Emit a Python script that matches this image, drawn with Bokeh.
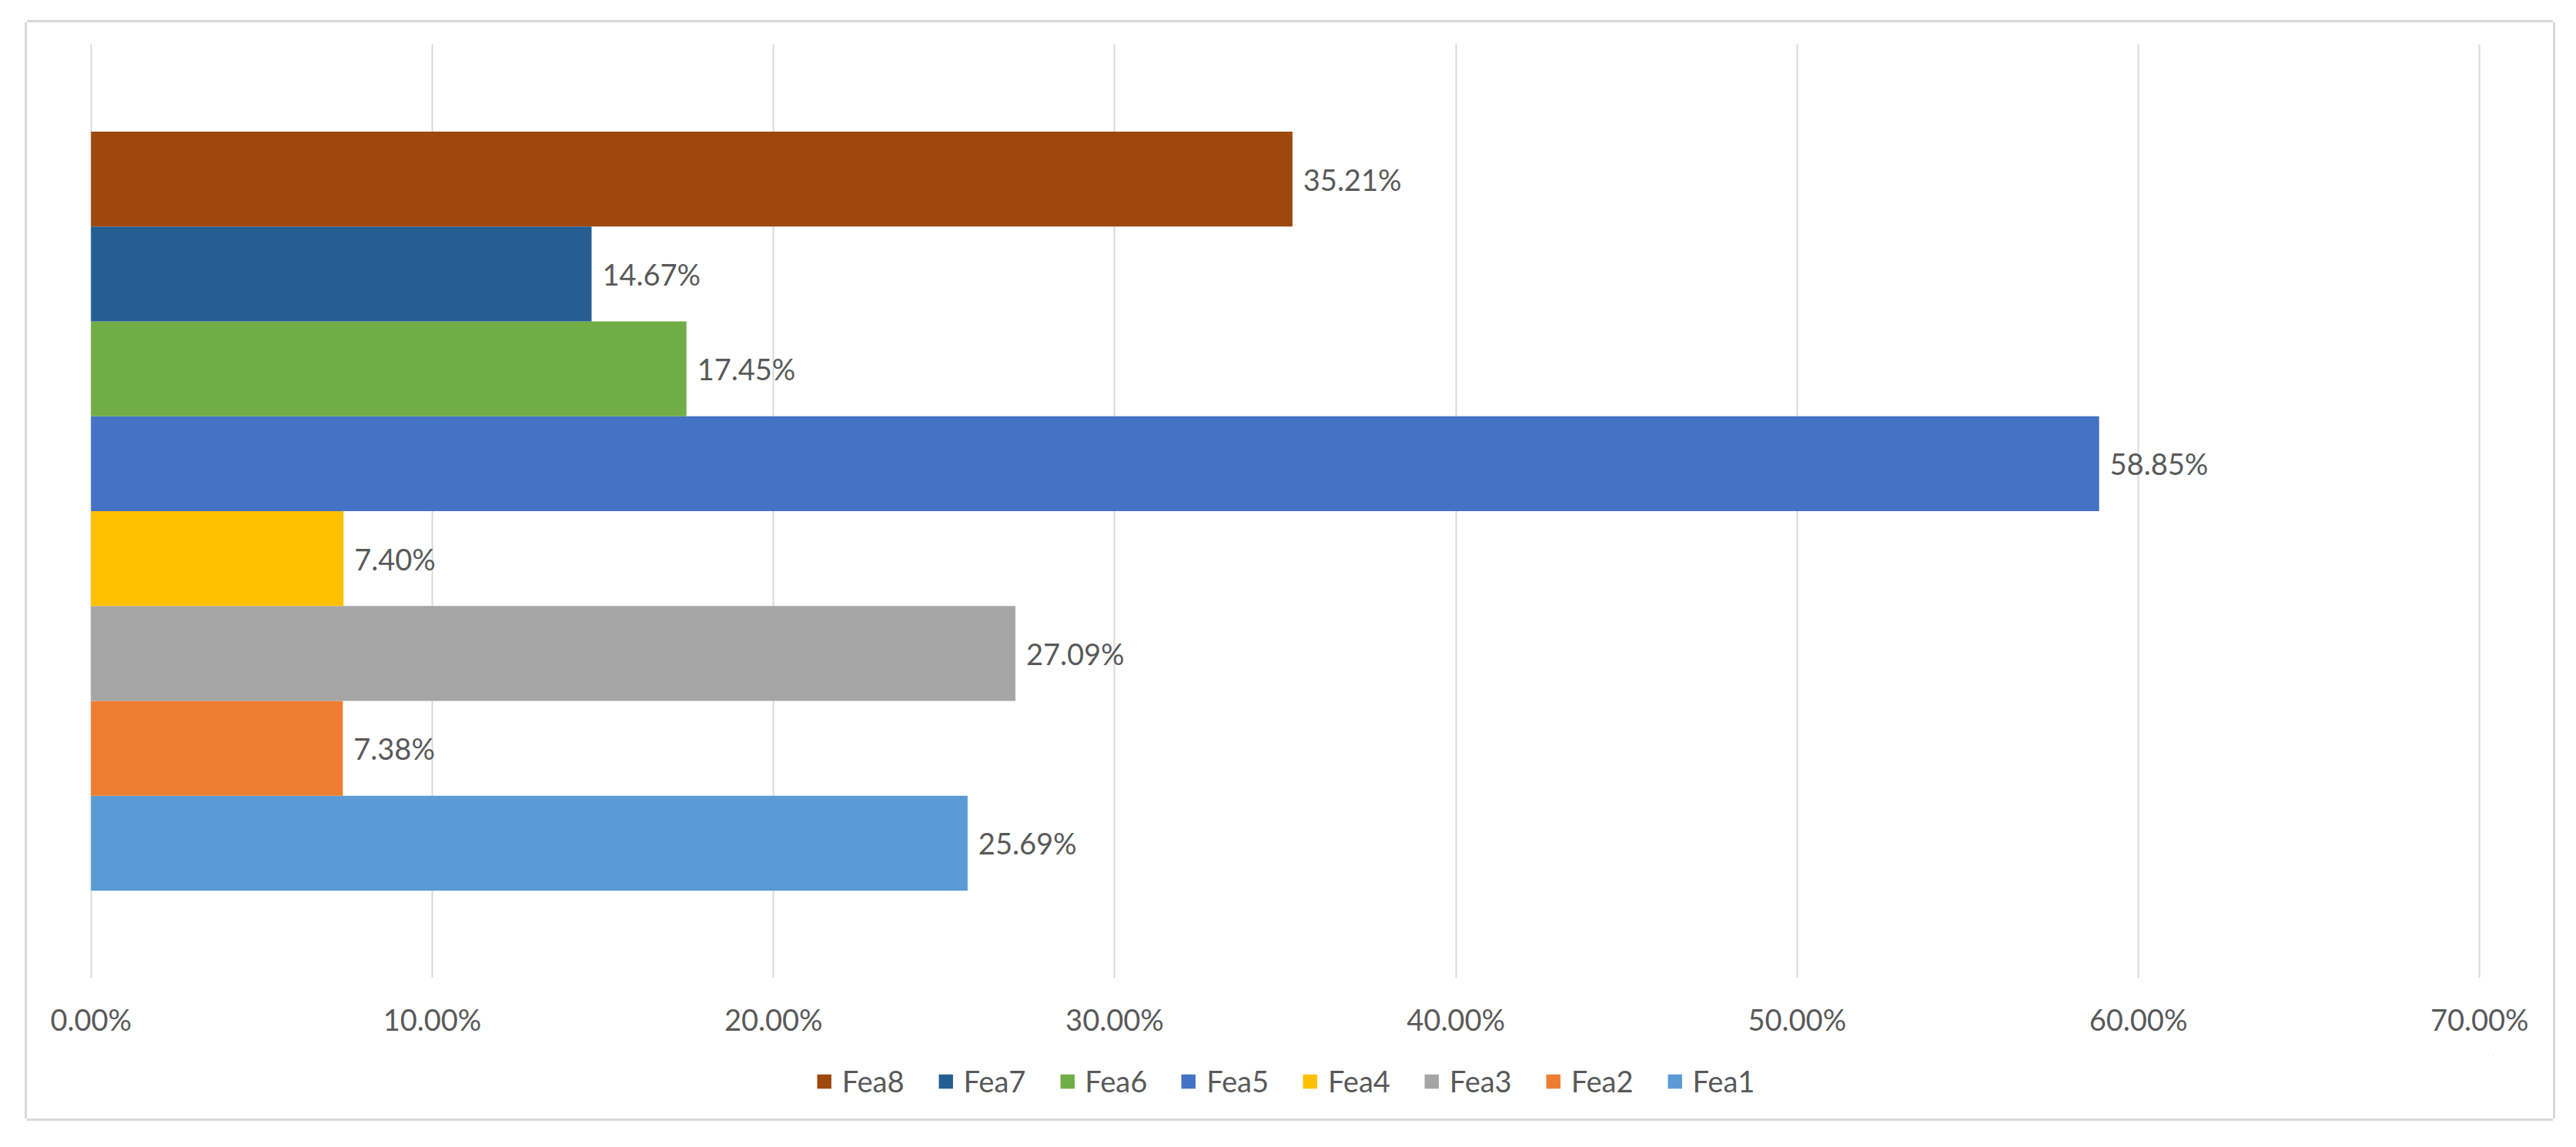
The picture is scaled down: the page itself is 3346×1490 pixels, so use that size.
from bokeh.plotting import figure
from bokeh.layouts import column
from bokeh.models import (ColumnDataSource, Range1d, FixedTicker, PrintfTickFormatter,
                          Legend, LegendItem)
from bokeh.core.properties import value
from bokeh.embed import file_html
from bokeh.resources import INLINE

# ---- data ----
series = ["Fea1", "Fea2", "Fea3", "Fea4", "Fea5", "Fea6", "Fea7", "Fea8"]
values = [25.69, 7.38, 27.09, 7.40, 58.85, 17.45, 14.67, 35.21]
colors = ["#5B9BD5", "#ED7D31", "#A5A5A5", "#FFC000", "#4472C4", "#70AD47", "#255E91", "#9E480E"]
x_ticks = [0, 10, 20, 30, 40, 50, 60, 70]

FONT = "Lato"
TXT = "#595959"
FS = "38px"
BORDER = "#d9d9d9"

positions = list(range(1, len(series) + 1))
labels = [f"{v:.2f}%" for v in values]

W = 3281
p = figure(
    width=W, height=1341,
    output_backend="svg", toolbar_location=None,
    x_range=Range1d(-0.4, 70.4), y_range=Range1d(-0.42, 9.42),
    y_axis_location=None,
    min_border_left=65, min_border_right=78, min_border_top=28, min_border_bottom=100,
    margin=(29, 0, 0, 35),
    styles={"box-shadow": f"-3px 0 0 0 {BORDER}, 3px 0 0 0 {BORDER}, 0 -3px 0 0 {BORDER}"},
)
p.outline_line_color = None
p.background_fill_color = "white"
p.border_fill_color = "white"

for name, y, v, c in zip(series, positions, values, colors):
    src = ColumnDataSource(dict(y=[y], right=[v]))
    p.hbar(y="y", right="right", left=0, height=1.0, source=src,
           fill_color=c, line_color=None)

lab_src = ColumnDataSource(dict(x=values, y=positions, text=labels))
p.text(x="x", y="y", text="text", source=lab_src, x_offset=14,
       text_baseline="middle", text_align="left",
       text_font=value(FONT), text_font_size=FS, text_color=TXT)

ax = p.xaxis[0]
ax.ticker = FixedTicker(ticks=x_ticks)
ax.formatter = PrintfTickFormatter(format="%.2f%%")
ax.axis_line_color = None
ax.major_tick_line_color = None
ax.minor_tick_line_color = None
ax.major_tick_out = 0
ax.major_tick_in = 0
ax.major_label_standoff = 30
ax.major_label_text_font = FONT
ax.major_label_text_font_size = FS
ax.major_label_text_color = TXT

p.xgrid.ticker = FixedTicker(ticks=x_ticks)
p.xgrid.grid_line_color = BORDER
p.xgrid.grid_line_width = 2
p.ygrid.visible = False

# ---- legend strip (own small figure, same series) ----
p2 = figure(
    width=W, height=83,
    output_backend="svg", toolbar_location=None,
    x_range=Range1d(-200, -100), y_range=Range1d(-200, -100),
    x_axis_location=None, y_axis_location=None,
    min_border_left=0, min_border_right=0, min_border_top=0, min_border_bottom=0,
    margin=(0, 0, 0, 35),
    styles={"box-shadow": f"-3px 0 0 0 {BORDER}, 3px 0 0 0 {BORDER}, 0 3px 0 0 {BORDER}"},
)
p2.outline_line_color = None
p2.xgrid.visible = False
p2.ygrid.visible = False
p2.background_fill_color = "white"
p2.border_fill_color = "white"

leg_renderers = []
for name, y, v, c in zip(series, positions, values, colors):
    src = ColumnDataSource(dict(y=[y], right=[v]))
    r = p2.hbar(y="y", right="right", left=0, height=1.0, source=src,
                fill_color=c, line_color=None)
    leg_renderers.append(r)

items = [LegendItem(label=name, renderers=[r]) for name, r in zip(series, leg_renderers)][::-1]
legend = Legend(items=items, orientation="horizontal", location="top_center",
                label_text_font=FONT, label_text_font_size=FS, label_text_color=TXT,
                glyph_width=23, glyph_height=23, label_standoff=12, spacing=42,
                border_line_color=None, background_fill_alpha=0,
                margin=11, padding=0)
p2.add_layout(legend)

layout = column(p, p2, spacing=0)

open("out.html", "w").write(file_html(layout, INLINE))
